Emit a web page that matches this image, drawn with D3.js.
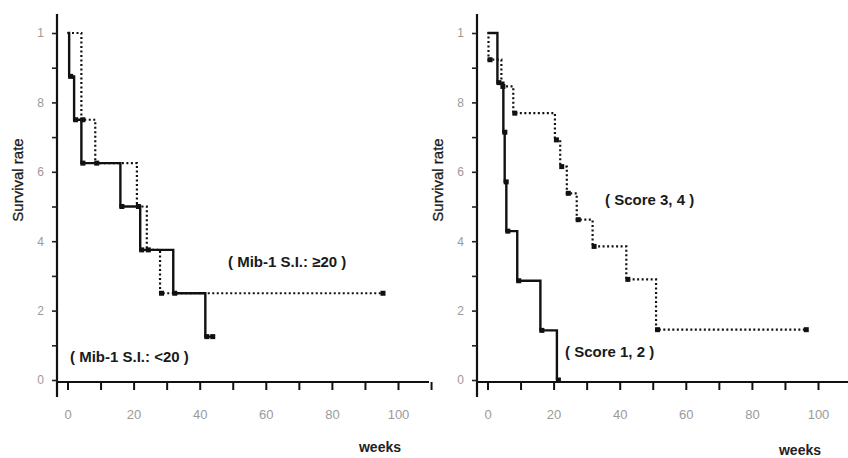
<!DOCTYPE html>
<html><head><meta charset="utf-8">
<script src="https://cdn.jsdelivr.net/npm/d3@7"></script>
<style>body{margin:0;background:#fff}svg{display:block}</style>
</head><body>
<svg id="c" width="848" height="458"></svg>
<script>
// ---- data ----
const yTickValues = [0,0.1,0.2,0.3,0.4,0.5,0.6,0.7,0.8,0.9,1];
const yTickLabels = {"0":"0","0.2":"2","0.4":"4","0.6":"6","0.8":"8","1":"1"};
const xTickValues = [0,10,20,30,40,50,60,70,80,90,100,110];
const xTickLabels = [0,20,40,60,80,100];

// Panel a: Mib-1 S.I.
const lowTimes = [0, 0.5, 2, 4.2, 16, 22, 32, 41.7, 43.5];
const lowSurv  = [1, 0.875, 0.75, 0.625, 0.5, 0.375, 0.25, 0.125, 0.125];
const highTimes = [0, 4.2, 8.4, 21, 24, 28, 95];
const highSurv  = [1, 0.75, 0.625, 0.5, 0.375, 0.25, 0.25];

// Panel b: Score
const s12Times = [0, 3, 4.8, 5.2, 5.7, 9, 16, 21];
const s12Surv  = [1, 0.857, 0.714, 0.571, 0.429, 0.286, 0.143, 0];
const s34Times = [0, 0.3, 4.2, 7.8, 20.4, 22, 24, 27, 31.8, 42, 51, 96];
const s34Surv  = [1, 0.923, 0.846, 0.769, 0.692, 0.615, 0.538, 0.462, 0.385, 0.29, 0.145, 0.145];

const labelsA = ["( Mib-1 S.I.: \u226520 )", "( Mib-1 S.I.: <20 )"];
const labelsB = ["( Score 3, 4 )", "( Score 1, 2 )"];

// ---- drawing ----
const svg = d3.select("#c");
svg.append("rect").attr("width",848).attr("height",458).attr("fill","#fff");

function panel(off, series, labels, labelPos, weeksY, axisEnd) {
  const g = svg.append("g").attr("transform", `translate(${off},0)`);
  const x = d3.scaleLinear().domain([0,100]).range([67.5, 398]);
  const y = d3.scaleLinear().domain([0,1]).range([380, 33]);
  const axX = 57, axY = 382;

  // y axis
  g.append("line").attr("x1",axX).attr("x2",axX).attr("y1",14).attr("y2",397)
    .attr("stroke","#111").attr("stroke-width",2.2);
  const ya = g.append("g").attr("transform",`translate(${axX},0)`)
    .call(d3.axisLeft(y).tickValues(yTickValues).tickSize(5).tickPadding(8)
      .tickFormat(d => yTickLabels[String(+d.toFixed(1))] || ""));
  ya.select(".domain").remove();
  ya.selectAll("line").attr("stroke","#222").attr("stroke-width",1.6);
  ya.selectAll("text").attr("fill","#9a9a9a").style("font","12px 'Liberation Sans', Arial, sans-serif");

  // x axis
  g.append("line").attr("x1",axX).attr("x2",axisEnd).attr("y1",axY).attr("y2",axY)
    .attr("stroke","#111").attr("stroke-width",2.2);
  const xa = g.append("g").attr("transform",`translate(0,${axY})`)
    .call(d3.axisBottom(x).tickValues(xTickValues).tickSize(8).tickPadding(20)
      .tickFormat(d => xTickLabels.includes(d) ? d : ""));
  xa.select(".domain").remove();
  xa.selectAll("line").attr("stroke","#111").attr("stroke-width",2);
  xa.selectAll("text").attr("fill","#9a9a9a").style("font","13px 'Liberation Sans', Arial, sans-serif");

  // labels
  g.append("text").attr("transform","translate(23,180) rotate(-90)")
    .attr("text-anchor","middle").attr("fill","#1a1a1a")
    .style("font","15px 'Liberation Sans', Arial, sans-serif").style("stroke","#1a1a1a").style("stroke-width","0.3")
    .text("Survival rate");
  g.append("text").attr("x",380).attr("y",weeksY).attr("text-anchor","middle")
    .attr("fill","#222").style("font","bold 14px 'Liberation Sans', Arial, sans-serif").text("weeks");

  const line = d3.line().curve(d3.curveStepAfter).x(d => x(d[0])).y(d => y(d[1]));
  series.forEach(s => {
    const pts = s.t.map((t,i) => [t, s.v[i]]);
    g.append("path").attr("d", line(pts)).attr("fill","none").attr("stroke","#111")
      .attr("stroke-width", s.dotted ? 2.2 : 2.4)
      .attr("stroke-dasharray", s.dotted ? "2,2.5" : null);
    g.selectAll(null).data(pts.slice(1)).enter().append("rect")
      .attr("x", d => x(d[0]) - 1).attr("y", d => y(d[1]) - 2.5)
      .attr("width", 5).attr("height", 5).attr("fill","#111");
  });

  labels.forEach((t,i) => {
    g.append("text").attr("x",labelPos[i][0]).attr("y",labelPos[i][1])
      .attr("fill","#1a1a1a").style("font","bold 15px 'Liberation Sans', Arial, sans-serif").text(t);
  });
}

panel(0, [
  {t: highTimes, v: highSurv, dotted: true},
  {t: lowTimes, v: lowSurv, dotted: false}
], labelsA, [[228,267],[70,362]], 452, 429);

panel(420, [
  {t: s34Times, v: s34Surv, dotted: true},
  {t: s12Times, v: s12Surv, dotted: false}
], labelsB, [[185,205],[145,357]], 455, 440);
</script>
</body></html>
